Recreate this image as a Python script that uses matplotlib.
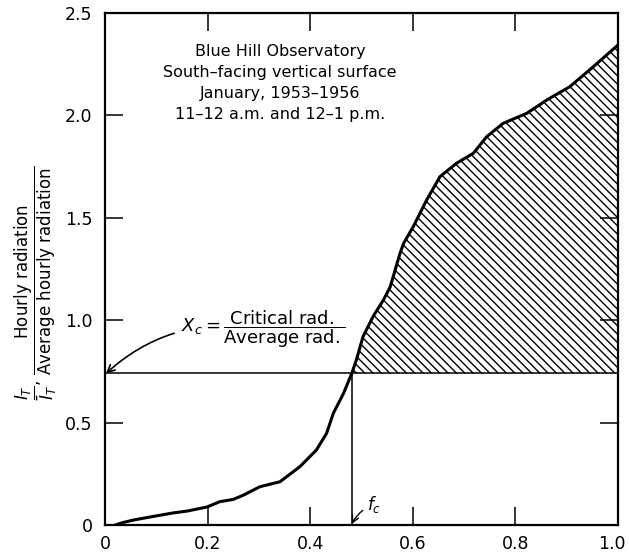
import numpy as np
import matplotlib
matplotlib.use("Agg")
import matplotlib.pyplot as plt
from matplotlib.transforms import ScaledTranslation

# fraction of time (x) vs hourly / average hourly radiation (y)
frac_time = [0.02, 0.035, 0.055, 0.09, 0.133, 0.16, 0.199, 0.224, 0.25, 0.27,
             0.302, 0.341, 0.38, 0.412, 0.432, 0.445, 0.465, 0.481, 0.49, 0.503,
             0.523, 0.543, 0.556, 0.575, 0.582, 0.601, 0.627, 0.653, 0.685, 0.718,
             0.744, 0.776, 0.822, 0.861, 0.906, 0.952, 1.0]
rad_ratio = [0.0, 0.012, 0.024, 0.04, 0.059, 0.068, 0.088, 0.114, 0.125, 0.146,
             0.187, 0.211, 0.285, 0.366, 0.448, 0.545, 0.643, 0.74, 0.806, 0.92,
             1.02, 1.10, 1.163, 1.326, 1.375, 1.457, 1.587, 1.701, 1.766, 1.815,
             1.896, 1.961, 2.01, 2.075, 2.14, 2.238, 2.344]

x_c = 0.74   # critical radiation ratio
f_c = 0.481  # fraction of time below x_c

x_ticks = [0, 0.2, 0.4, 0.6, 0.8, 1.0]
x_ticklabels = ["0", "0.2", "0.4", "0.6", "0.8", "1.0"]
y_ticks = [0, 0.5, 1.0, 1.5, 2.0, 2.5]
y_ticklabels = ["0", "0.5", "1.0", "1.5", "2.0", "2.5"]

title_lines = ["Blue Hill Observatory", "South\u2013facing vertical surface",
               "January, 1953\u20131956", "11\u201312 a.m. and 12\u20131 p.m."]

plt.rcParams["hatch.linewidth"] = 1.0

fig = plt.figure(figsize=(6.29, 5.54), dpi=100)
ax = fig.add_axes([105 / 629, 1 - 525 / 554, 513 / 629, 512 / 554])

xs = np.array(frac_time)
ys = np.array(rad_ratio)

ax.fill_between(xs, ys, x_c, where=ys >= x_c, interpolate=True,
                facecolor="none", edgecolor="black", hatch="\\" * 4, linewidth=0)
ax.plot(xs, ys, color="black", lw=2.2, solid_joinstyle="round",
        solid_capstyle="round")
ax.axhline(x_c, color="black", lw=1.1)
ax.plot([f_c, f_c], [0, x_c], color="black", lw=1.1)

ax.set_xlim(0, 1.0)
ax.set_ylim(0, 2.5)
ax.set_xticks(x_ticks)
ax.set_xticklabels(x_ticklabels)
ax.set_yticks(y_ticks)
ax.set_yticklabels(y_ticklabels)
ax.tick_params(direction="in", top=True, right=True, length=13, width=1.1,
               labelsize=12.5, pad=7)
ax.tick_params(axis="y", pad=9)
for s in ax.spines.values():
    s.set_linewidth(1.6)

# last x label sits at the figure edge, nudge it in a bit
last = ax.get_xticklabels()[-1]
last.set_transform(last.get_transform() + ScaledTranslation(-6 / 100, 0, fig.dpi_scale_trans))

ax.text(0.341, 2.16, "\n".join(title_lines), ha="center", va="center",
        fontsize=11.5, linespacing=1.5)

ax.annotate(r"$X_c = \dfrac{\mathrm{Critical\ rad.}}{\mathrm{Average\ rad.}}$",
            xy=(0.002, x_c), xytext=(0.148, 0.955), fontsize=13,
            ha="left", va="center",
            arrowprops=dict(arrowstyle="->", color="black", lw=1.2,
                            connectionstyle="arc3,rad=0.25", shrinkA=3, shrinkB=0))

ax.annotate(r"$f_c$", xy=(f_c, 0.005), xytext=(0.51, 0.10), fontsize=12,
            ha="left", va="center",
            arrowprops=dict(arrowstyle="->", color="black", lw=1.0,
                            connectionstyle="arc3,rad=0.2", shrinkA=1, shrinkB=0))

fig.text(36 / 629, 1 - 283 / 554,
         r"$\dfrac{I_T}{\bar{I}_T}$, $\dfrac{\mathrm{Hourly\ radiation}}{\mathrm{Average\ hourly\ radiation}}$",
         rotation=90, ha="center", va="center", fontsize=12)

fig.savefig("out.png", dpi=100)
